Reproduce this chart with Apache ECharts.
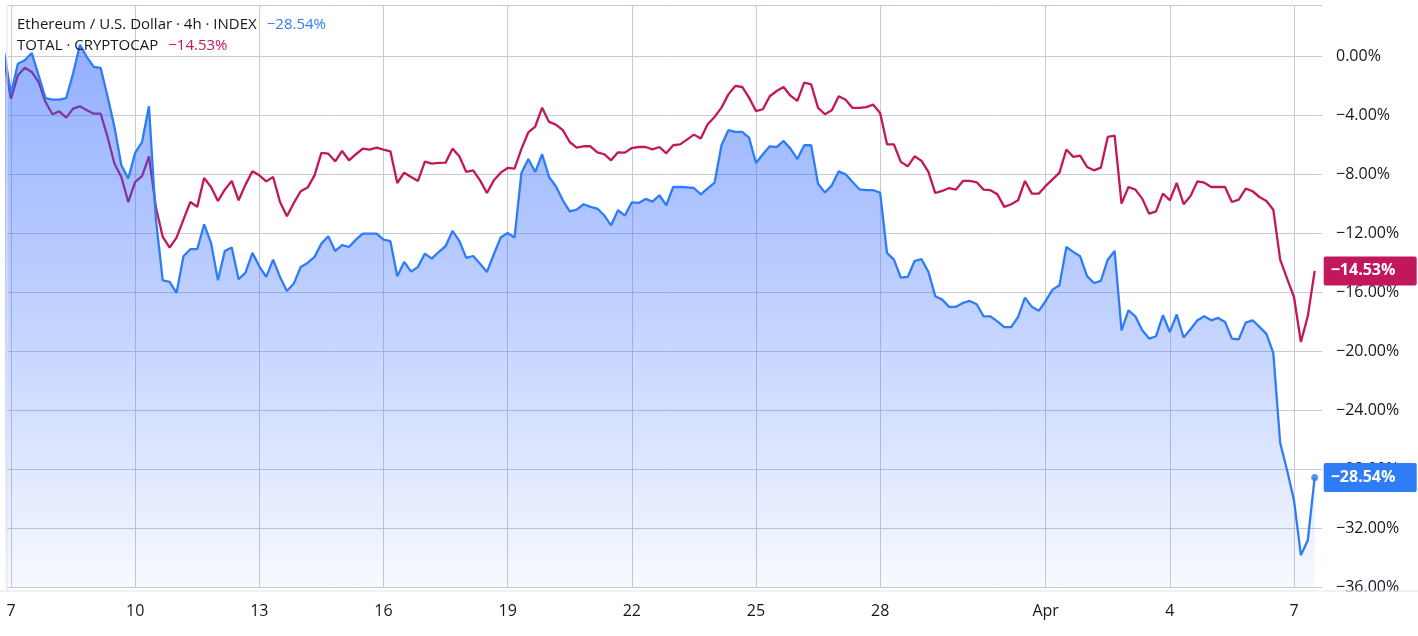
<!DOCTYPE html>
<html>
<head>
<meta charset="utf-8">
<style>
  html, body { margin: 0; padding: 0; background: #ffffff; }
  #chart { width: 1418px; height: 636px; }
</style>
<script src="https://cdn.jsdelivr.net/npm/echarts@6/dist/echarts.min.js"></script>
</head>
<body>
<div id="chart"></div>
<script>
// 4h bars; bar index -1 = Mar 6 20:00, index 0 = Mar 7 00:00 ... index 189 = Apr 7 12:00
const firstBarIndex = -1;

// Ethereum / U.S. Dollar (% change)
const ethValues = [
  0.3,
  -2.51, -0.48, -0.25, 0.25, -1.27, -2.81, -2.92, -2.92, -2.81, -1.15,
  0.8, -0.03, -0.70, -0.77, -2.7, -4.77, -7.37, -8.27, -6.53, -5.79,
  -3.37, -11.0, -15.17, -15.28, -16.02, -13.54, -13.06, -13.06, -11.37, -12.63,
  -15.17, -13.18, -12.95, -15.1, -14.65, -13.31, -14.22, -14.94, -13.77, -14.94,
  -15.89, -15.39, -14.26, -13.99, -13.58, -12.68, -12.18, -13.18, -12.79, -12.91,
  -12.41, -12.0, -12.0, -12.0, -12.41, -12.52, -14.9, -13.92, -14.58, -14.26,
  -13.36, -13.70, -13.25, -12.86, -11.82, -12.5, -13.65, -13.52, -14.04, -14.6,
  -13.4, -12.27, -11.96, -12.27, -7.89, -6.94, -7.82, -6.62, -8.16, -8.79,
  -9.74, -10.49, -10.38, -10.01, -10.19, -10.31, -10.76, -11.44, -10.42, -10.78,
  -9.88, -9.92, -9.65, -9.83, -9.40, -10.08, -8.84, -8.84, -8.86, -8.91,
  -9.34, -8.93, -8.55, -6.01, -4.99, -5.11, -5.11, -5.49, -7.21, -6.62,
  -6.08, -6.13, -5.72, -6.24, -6.95, -6.01, -6.01, -8.61, -9.22, -8.73,
  -7.78, -7.98, -8.50, -9.0, -9.06, -9.06, -9.22, -13.31, -13.77, -14.99,
  -14.94, -13.86, -13.74, -14.6, -16.25, -16.48, -16.97, -16.97, -16.7, -16.57,
  -16.79, -17.61, -17.61, -17.95, -18.35, -18.35, -17.65, -16.34, -16.97, -17.24,
  -16.57, -15.80, -15.51, -12.91, -13.24, -13.54, -14.89, -15.35, -15.21, -13.77,
  -13.18, -18.56, -17.20, -17.61, -18.56, -19.12, -18.96, -17.54, -18.67, -17.49,
  -19.05, -18.49, -17.88, -17.61, -17.88, -17.72, -17.99, -19.12, -19.17, -18.04,
  -17.88, -18.33, -18.8, -20.09, -26.2, -28.05, -30.08, -33.81, -32.79, -28.54
];

// TOTAL crypto market cap (% change)
const totalValues = [
  -0.3,
  -2.85, -1.27, -0.75, -1.04, -1.72, -3.08, -3.91, -3.71, -4.14, -3.53,
  -3.37, -3.64, -3.87, -3.87, -5.45, -7.26, -8.16, -9.86, -8.50, -8.11,
  -6.76, -10.19, -12.23, -12.95, -12.27, -11.05, -9.86, -10.19, -8.23, -8.84,
  -9.79, -9.02, -8.43, -9.74, -8.68, -7.78, -8.05, -8.46, -8.16, -9.86,
  -10.83, -9.92, -9.13, -8.88, -8.05, -6.53, -6.58, -7.10, -6.40, -7.03,
  -6.62, -6.24, -6.31, -6.17, -6.31, -6.42, -8.57, -7.87, -8.16, -8.43,
  -7.12, -7.26, -7.21, -7.19, -6.24, -6.76, -7.82, -7.71, -8.39, -9.25,
  -8.39, -7.87, -7.55, -7.6, -6.26, -5.13, -4.74, -3.46, -4.43, -4.61,
  -4.99, -5.79, -6.17, -6.08, -6.08, -6.49, -6.62, -7.03, -6.49, -6.51,
  -6.20, -6.13, -6.13, -6.29, -6.13, -6.56, -6.01, -5.95, -5.63, -5.29,
  -5.56, -4.59, -4.09, -3.46, -2.56, -1.99, -2.06, -2.78, -3.69, -3.57,
  -2.69, -2.33, -2.06, -2.65, -3.0, -1.77, -1.88, -3.48, -3.91, -3.64,
  -2.69, -2.92, -3.48, -3.48, -3.42, -3.26, -3.82, -5.95, -5.95, -7.14,
  -7.44, -6.76, -7.07, -7.82, -9.25, -9.11, -8.91, -9.02, -8.43, -8.43,
  -8.52, -9.02, -9.06, -9.34, -10.19, -10.01, -9.74, -8.43, -9.29, -9.29,
  -8.77, -8.32, -7.87, -6.3, -6.80, -6.71, -7.48, -7.71, -7.53, -5.45,
  -5.36, -9.97, -8.84, -9.02, -9.63, -10.65, -10.49, -9.29, -9.74, -8.57,
  -10.01, -9.45, -8.46, -8.55, -8.84, -8.84, -8.84, -9.86, -9.70, -8.95,
  -9.13, -9.52, -9.79, -10.38, -13.77, -15.06, -16.30, -19.35, -17.61, -14.53
];

// x-axis tick positions (bar index) and their labels
const xTickIndex  = [0, 18, 36, 54, 72, 90, 108, 126, 150, 168, 186];
const xTickLabels = ['7', '10', '13', '16', '19', '22', '25', '28', 'Apr', '4', '7'];

// y-axis tick labels
const yTicks = [0, -4, -8, -12, -16, -20, -24, -28, -32, -36];

const ethName = 'Ethereum / U.S. Dollar · 4h · INDEX';
const totalName = 'TOTAL · CRYPTOCAP';

const FONT = '"Open Sans", "Noto Sans", sans-serif';
const BLUE = '#2E7CF6';
const RED = '#C2185B';

function pct(v) {
  const s = Math.abs(v).toFixed(2) + '%';
  return (v < 0 ? '\u2212' : '') + s;
}

const ethData = ethValues.map((v, k) => [k + firstBarIndex, v]);
const totalData = totalValues.map((v, k) => [k + firstBarIndex, v]);
const ethLast = ethData[ethData.length - 1];
const totalLast = totalData[totalData.length - 1];

const chart = echarts.init(document.getElementById('chart'), null, { renderer: 'canvas' });

const badge = (bg) => ({
  show: true,
  formatter: (p) => pct(p.value[1]),
  color: '#ffffff',
  backgroundColor: bg,
  fontFamily: FONT,
  fontSize: 16,
  fontWeight: 'bold',
  lineHeight: 17,
  width: 80,
  padding: [6, 6, 6, 7],
  borderRadius: 2,
  distance: 9,
  align: 'left'
});

chart.setOption({
  animation: false,
  backgroundColor: '#ffffff',
  title: {
    left: 17,
    top: 14,
    padding: 0,
    text: '{a|' + ethName + '}  {b|' + pct(ethLast[1]) + '}\n{a|' + totalName + '}  {c|' + pct(totalLast[1]) + '}',
    textStyle: {
      fontWeight: 'normal',
      rich: {
        a: { fontFamily: FONT, fontSize: 15, fontWeight: 'normal', color: '#131722', lineHeight: 21 },
        b: { fontFamily: FONT, fontSize: 15, fontWeight: 'normal', color: BLUE, lineHeight: 21 },
        c: { fontFamily: FONT, fontSize: 15, fontWeight: 'normal', color: RED, lineHeight: 21 }
      }
    }
  },
  grid: { left: 7, right: 96, top: 5, height: 582.5, containLabel: false },
  xAxis: {
    type: 'value',
    min: -0.58,
    max: 190.06,
    axisLine: { show: false },
    axisTick: { show: false, customValues: xTickIndex },
    axisLabel: {
      customValues: xTickIndex,
      formatter: (v) => { const i = xTickIndex.indexOf(v); return i >= 0 ? xTickLabels[i] : ''; },
      fontFamily: FONT, fontSize: 16, color: '#131722', margin: 16
    },
    splitLine: { show: true, lineStyle: { color: '#c9cad3', width: 1 } }
  },
  yAxis: {
    type: 'value',
    position: 'right',
    min: -36,
    max: 3.5,
    interval: 4,
    axisLine: { show: false },
    axisTick: { show: false },
    axisLabel: {
      showMaxLabel: false,
      margin: 14,
      formatter: (v) => (yTicks.indexOf(v) >= 0 ? pct(v) : ''),
      fontFamily: FONT, fontSize: 16, color: '#131722'
    },
    splitLine: { show: true, lineStyle: { color: '#c9cad3', width: 1 } }
  },
  series: [
    {
      name: totalName,
      type: 'line',
      data: totalData,
      symbol: 'none',
      lineStyle: { color: RED, width: 2.3 },
      itemStyle: { color: RED },
      endLabel: badge(RED),
      z: 2
    },
    {
      name: ethName,
      type: 'line',
      data: ethData,
      symbol: 'none',
      lineStyle: { color: BLUE, width: 2.3 },
      itemStyle: { color: BLUE },
      areaStyle: {
        origin: 'start',
        color: new echarts.graphic.LinearGradient(0, 0, 0, 1, [
          { offset: 0, color: 'rgba(41, 98, 255, 0.72)' },
          { offset: 0.6, color: 'rgba(41, 98, 255, 0.34)' },
          { offset: 1, color: 'rgba(41, 98, 255, 0.05)' }
        ])
      },
      endLabel: badge(BLUE),
      z: 3
    },
    {
      type: 'scatter',
      data: [ethLast],
      symbol: 'circle',
      symbolSize: 7,
      itemStyle: { color: BLUE },
      z: 4,
      silent: true
    }
  ],
  graphic: [
    { type: 'rect', shape: { x: 1322, y: 591.5, width: 96, height: 45 }, style: { fill: '#ffffff' }, z: 100, silent: true },
    { type: 'line', shape: { x1: 0, y1: 591, x2: 1418, y2: 591 }, style: { stroke: '#e0e3eb', lineWidth: 1 }, z: 101, silent: true },
    { type: 'line', shape: { x1: 7, y1: 5, x2: 7, y2: 591 }, style: { stroke: '#e0e3eb', lineWidth: 1 }, z: 101, silent: true }
  ]
});
</script>
</body>
</html>
